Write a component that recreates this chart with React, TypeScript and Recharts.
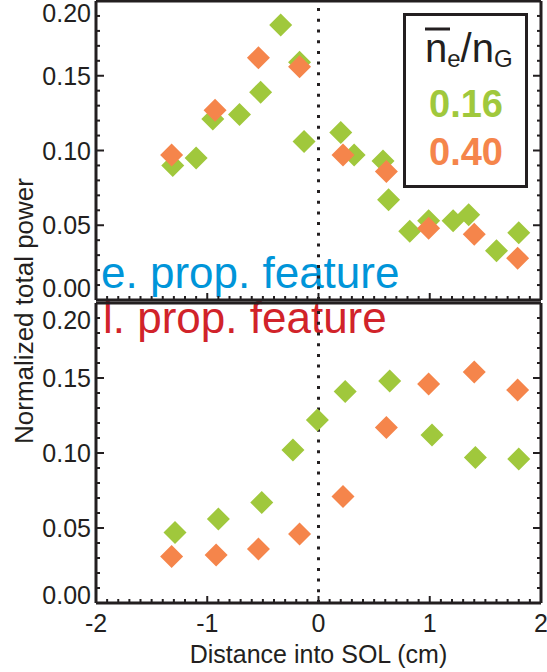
import React from 'react'
import { ScatterChart, Scatter, XAxis, YAxis, ReferenceLine } from 'recharts'

const GREEN = '#a0c83c'
const ORANGE = '#f5854b'
const BLUE = '#0095d9'
const RED = '#d1232a'
const INK = '#231f20'
const FONT = '"Liberation Sans", Arial, sans-serif'

// axis ticks
const X_MAJOR = [-2, -1, 0, 1, 2]
const X_LABELS = ['-2', '-1', '0', '1', '2']
const X_MINOR = Array.from({ length: 41 }, (_, i) => (i - 20) / 10)
const Y_MAJOR = [0, 0.05, 0.1, 0.15, 0.2]
const Y_LABELS = ['0.00', '0.05', '0.10', '0.15', '0.20']
const Y_MINOR = Array.from({ length: 21 }, (_, i) => i / 100)

// legend
const LEGEND_VALUES = ['0.16', '0.40']

// e. prop. feature (top panel)
const E_LOW_X = [-1.31, -1.1, -0.95, -0.71, -0.52, -0.34, -0.17, -0.13, 0.2, 0.32, 0.58, 0.63, 0.82, 0.99, 1.21, 1.35, 1.6, 1.8]
const E_LOW_Y = [0.09, 0.095, 0.121, 0.124, 0.139, 0.184, 0.159, 0.106, 0.112, 0.097, 0.093, 0.067, 0.046, 0.053, 0.053, 0.057, 0.033, 0.045]
const E_HIGH_X = [-1.32, -0.93, -0.54, -0.17, 0.22, 0.61, 0.99, 1.4, 1.79]
const E_HIGH_Y = [0.097, 0.127, 0.162, 0.156, 0.097, 0.086, 0.048, 0.044, 0.028]

// l. prop. feature (bottom panel)
const L_LOW_X = [-1.29, -0.9, -0.51, -0.23, -0.01, 0.24, 0.64, 1.02, 1.41, 1.8]
const L_LOW_Y = [0.047, 0.056, 0.067, 0.102, 0.122, 0.141, 0.148, 0.112, 0.097, 0.096]
const L_HIGH_X = [-1.32, -0.92, -0.54, -0.17, 0.22, 0.61, 0.99, 1.4, 1.79]
const L_HIGH_Y = [0.031, 0.032, 0.036, 0.046, 0.071, 0.117, 0.146, 0.154, 0.142]

const toPoints = (xs: number[], ys: number[]) => xs.map((x, i) => ({ x, y: ys[i] }))

const near = (a: number, b: number) => Math.abs(a - b) < 1e-6
const AXIS_LINE = { stroke: INK, strokeWidth: 3 }

const diamond = (color: string) => (props: any) => {
  const { cx, cy } = props
  const r = 11.5
  return (
    <polygon
      points={`${cx},${cy - r} ${cx + r},${cy} ${cx},${cy + r} ${cx - r},${cy}`}
      fill={color}
    />
  )
}

const xTick = (side: 'top' | 'bottom', labels: boolean) => (props: any) => {
  const { x, y, payload } = props
  const idx = X_MAJOR.findIndex(m => near(m, payload.value))
  const len = idx >= 0 ? 7 : 4
  const dir = side === 'bottom' ? -1 : 1
  return (
    <g>
      <line x1={x} x2={x} y1={y} y2={y + dir * len} stroke={INK} strokeWidth={2} />
      {labels && idx >= 0 && (
        <text x={x} y={y + 29} textAnchor="middle" fontSize={25} fill={INK} fontFamily={FONT}>
          {X_LABELS[idx]}
        </text>
      )}
    </g>
  )
}

const yTick = (side: 'left' | 'right', shiftTop = 0, shiftBottom = 0) => (props: any) => {
  const { x, y, payload } = props
  const idx = Y_MAJOR.findIndex(m => near(m, payload.value))
  const len = idx >= 0 ? 8 : 4
  const dir = side === 'left' ? 1 : -1
  let dy = 0
  if (idx === Y_MAJOR.length - 1) dy = shiftTop
  if (idx === 0) dy = shiftBottom
  return (
    <g>
      <line x1={x} x2={x + dir * len} y1={y} y2={y} stroke={INK} strokeWidth={2} />
      {side === 'left' && idx >= 0 && (
        <text x={x - 5} y={y + dy + 9} textAnchor="end" fontSize={25} fill={INK} fontFamily={FONT}>
          {Y_LABELS[idx]}
        </text>
      )}
    </g>
  )
}

interface PanelProps {
  low: { x: number; y: number }[]
  high: { x: number; y: number }[]
  height: number
  top: number
  marginTop: number
  marginBottom: number
  bottomAxis: number
  shiftTop: number
  shiftBottom: number
  xLabels: boolean
}

function Panel({ low, high, height, top, marginTop, marginBottom, bottomAxis, shiftTop, shiftBottom, xLabels }: PanelProps) {
  return (
    <div style={{ position: 'absolute', left: 0, top }}>
      <ScatterChart width={547} height={height} margin={{ top: marginTop, right: 5, bottom: marginBottom, left: 0 }}>
        <XAxis
          xAxisId="b" type="number" dataKey="x" domain={[-2, 2]} ticks={X_MINOR} interval={0}
          orientation="bottom" height={bottomAxis} tickSize={0} tickMargin={0}
          axisLine={AXIS_LINE} tickLine={false} tick={xTick('bottom', xLabels)} allowDataOverflow
          label={xLabels ? { value: 'Distance into SOL (cm)', position: 'insideBottom', offset: 9, fontSize: 25, fill: INK, fontFamily: FONT } : undefined}
        />
        <XAxis
          xAxisId="t" type="number" domain={[-2, 2]} ticks={X_MINOR} interval={0}
          orientation="top" height={1} tickSize={0} tickMargin={0}
          axisLine={AXIS_LINE} tickLine={false} tick={xTick('top', false)} allowDataOverflow
        />
        <YAxis
          yAxisId="l" type="number" dataKey="y" domain={[0, 0.2]} ticks={Y_MINOR} interval={0}
          width={96} tickSize={0} tickMargin={0}
          axisLine={AXIS_LINE} tickLine={false} tick={yTick('left', shiftTop, shiftBottom)} allowDataOverflow
        />
        <YAxis
          yAxisId="r" type="number" orientation="right" domain={[0, 0.2]} ticks={Y_MINOR} interval={0}
          width={1} tickSize={0} tickMargin={0}
          axisLine={AXIS_LINE} tickLine={false} tick={yTick('right')} allowDataOverflow
        />
        <Scatter data={low} xAxisId="b" yAxisId="l" shape={diamond(GREEN)} isAnimationActive={false} />
        <Scatter data={high} xAxisId="b" yAxisId="l" shape={diamond(ORANGE)} isAnimationActive={false} />
        <ReferenceLine x={0} xAxisId="b" yAxisId="l" stroke={INK} strokeWidth={3} strokeDasharray="3 7.7" />
      </ScatterChart>
    </div>
  )
}

export default function App() {
  return (
    <div style={{ position: 'absolute', left: 0, top: 0, width: 547, height: 672, background: '#fff', fontFamily: FONT }}>
      <svg width={547} height={672} style={{ position: 'absolute', left: 0, top: 0 }}>
        <text transform="translate(33, 311) rotate(-90)" textAnchor="middle" fontSize={26} fill={INK} fontFamily={FONT}>
          Normalized total power
        </text>
        <text x={101} y={288} fontSize={44} fill={BLUE} fontFamily={FONT}>e. prop. feature</text>
        <text x={103} y={333} fontSize={44} fill={RED} fontFamily={FONT}>l. prop. feature</text>
        <rect x={404.5} y={14.5} width={122} height={172} fill="#fff" stroke={INK} strokeWidth={3} />
        <line x1={425} x2={450} y1={29} y2={29} stroke={INK} strokeWidth={3} />
        <text x={425} y={62} fontSize={40} fill={INK} fontFamily={FONT}>
          n<tspan fontSize={24} dy={5}>e</tspan><tspan fontSize={40} dy={-5}>/n</tspan><tspan fontSize={24} dy={5}>G</tspan>
        </text>
        <text x={429} y={117} fontSize={38} fontWeight="bold" fill={GREEN} fontFamily={FONT}>{LEGEND_VALUES[0]}</text>
        <text x={429} y={165} fontSize={38} fontWeight="bold" fill={ORANGE} fontFamily={FONT}>{LEGEND_VALUES[1]}</text>
      </svg>
      <Panel
        low={toPoints(E_LOW_X, E_LOW_Y)} high={toPoints(E_HIGH_X, E_HIGH_Y)}
        height={310} top={0} marginTop={0} marginBottom={9} bottomAxis={1}
        shiftTop={12} shiftBottom={-12} xLabels={false}
      />
      <Panel
        low={toPoints(L_LOW_X, L_LOW_Y)} high={toPoints(L_HIGH_X, L_HIGH_Y)}
        height={377} top={295} marginTop={7} marginBottom={0} bottomAxis={69}
        shiftTop={17} shiftBottom={-8} xLabels
      />
    </div>
  )
}
